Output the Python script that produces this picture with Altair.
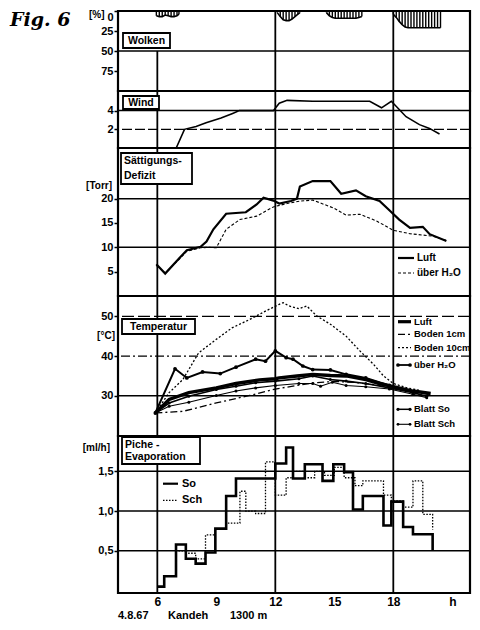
import altair as alt
import pandas as pd

# ---------------- data ----------------
x_ticks = [6, 9, 12, 15, 18, 21]
v_grid = [6, 12, 18]

# Wolken (cloud cover, %) – hatch readings, 4 episodes
cloud_h = [5.95, 6.1, 6.25, 6.4, 6.55, 6.7, 6.85, 7.0, 7.1,
           12.1, 12.25, 12.4, 12.55, 12.7, 12.85, 13.0, 13.15, 13.25,
           14.6, 14.75, 14.9, 15.05, 15.2, 15.35, 15.5, 15.65, 15.8, 15.95, 16.1, 16.25, 16.4,
           18.0, 18.15, 18.3, 18.45, 18.6, 18.75, 18.9, 19.05, 19.2, 19.35, 19.5, 19.65, 19.8, 19.95, 20.1, 20.25, 20.4]
cloud_v = [6, 7, 7, 5, 6, 7, 7, 6, 4,
           2, 7, 11, 12, 12, 10, 7, 4, 2,
           2, 6, 8, 9, 9, 9, 9, 9, 9, 9, 9, 8, 7,
           4, 8, 13, 17, 20, 21, 21, 21, 21, 21, 21, 21, 21, 21, 21, 21, 21]
cloud_seg = [1] * 9 + [2] * 9 + [3] * 13 + [4] * 17

# Wind
wind_h = [6.0, 6.96, 7.38, 7.97, 8.48, 9.24, 9.83, 10.17, 11.9, 12.2, 12.6, 13.9, 16.8, 17.4, 17.9, 18.65, 19.33, 19.84, 20.35]
wind_v = [0.0, 0.0, 2.0, 2.3, 2.7, 3.2, 3.7, 4.0, 4.0, 4.8, 5.1, 5.0, 5.0, 4.3, 5.0, 3.35, 2.5, 2.1, 1.5]

# Sättigungs-Defizit (Torr)
sd_luft_h = [5.95, 6.4, 7.15, 7.5, 8.2, 8.5, 8.85, 9.5, 10.5, 11.05, 11.4, 11.9, 12.2, 12.8, 13.1, 13.25, 13.9, 14.8, 15.35, 16.1, 16.6, 17.3, 17.8, 18.3, 18.85, 19.5, 19.85, 20.7]
sd_luft_v = [6.5, 4.6, 7.9, 9.4, 10.1, 11.2, 13.7, 16.9, 17.2, 18.8, 20.2, 19.6, 19.0, 19.5, 20.0, 22.5, 23.6, 23.6, 21.0, 21.7, 20.5, 19.5, 17.6, 15.7, 14.0, 14.2, 12.7, 11.3]
sd_h2o_h = [5.95, 6.4, 7.15, 7.5, 8.2, 8.6, 9.0, 9.5, 10.2, 11.05, 11.9, 12.6, 13.25, 13.9, 14.95, 15.6, 16.3, 17.15, 18.0, 18.85, 20.0, 20.7]
sd_h2o_v = [6.3, 4.7, 7.7, 9.2, 9.9, 10.0, 9.9, 13.7, 15.7, 16.4, 18.3, 19.0, 19.5, 19.7, 18.1, 16.6, 16.8, 15.4, 13.5, 12.8, 12.3, 11.4]

# Temperatur (°C)
t_luft_h = [5.9, 6.6, 7.6, 9.0, 10.0, 11.2, 12.0, 12.2, 13.1, 13.9, 14.8, 15.6, 16.6, 17.3, 18.0, 19.0, 19.9]
t_luft_v = [25.7, 29.1, 30.8, 32.0, 33.1, 34.0, 34.3, 34.5, 35.0, 35.4, 35.1, 35.0, 34.1, 33.1, 32.3, 31.2, 30.6]
t_b1_h = [5.9, 6.6, 7.3, 8.1, 9.0, 9.8, 10.7, 11.5, 12.2, 12.4, 12.7, 13.2, 13.6, 14.1, 14.8, 15.6, 16.3, 17.0, 17.5, 18.0, 18.7, 19.3]
t_b1_v = [25.7, 30.8, 34.1, 40.8, 44.2, 47.1, 49.2, 51.3, 53.0, 53.4, 52.6, 51.9, 52.6, 50.1, 48.0, 45.0, 41.3, 37.9, 35.0, 33.1, 32.0, 31.4]
t_b10_h = [5.9, 7.3, 9.0, 10.7, 12.0, 13.2, 14.0, 15.0, 16.0, 17.0, 18.0, 19.0, 19.9]
t_b10_v = [25.7, 26.1, 28.2, 30.1, 31.7, 32.7, 33.3, 33.6, 33.4, 32.8, 32.0, 31.0, 30.3]
t_h2o_h = [5.9, 6.9, 7.5, 8.3, 9.2, 10.0, 11.0, 11.5, 12.0, 12.55, 12.9, 13.4, 13.9, 14.8, 15.6, 16.6, 17.8]
t_h2o_v = [25.7, 36.8, 34.5, 36.0, 35.6, 37.2, 39.2, 38.7, 41.3, 39.6, 39.2, 37.5, 36.6, 36.5, 35.4, 34.5, 32.6]
t_bso_h = [5.9, 6.6, 7.6, 9.0, 10.0, 11.0, 12.0, 13.2, 13.9, 14.8, 15.6, 16.6, 17.8, 19.0, 19.7]
t_bso_v = [25.7, 28.2, 29.9, 31.6, 32.4, 33.3, 33.7, 34.3, 35.0, 34.1, 33.7, 33.1, 32.0, 30.8, 29.9]
t_bsch_h = [5.9, 6.6, 7.6, 9.0, 10.0, 11.0, 12.0, 13.2, 13.9, 14.3, 14.9, 15.6, 16.6, 17.8, 19.0, 19.7]
t_bsch_v = [25.7, 27.4, 28.4, 30.1, 31.2, 32.0, 32.6, 33.1, 33.1, 32.4, 33.4, 32.6, 32.3, 31.7, 30.4, 29.5]

# Piche-Evaporation (ml/h), step series
so_h = [6.0, 6.35, 6.95, 7.45, 7.95, 8.45, 8.95, 9.5, 10.0, 12.0, 12.55, 12.9, 13.5, 14.4, 14.95, 15.5, 15.95, 16.45, 17.5, 17.9, 18.5, 19.0, 20.0]
so_v = [0.05, 0.18, 0.58, 0.40, 0.34, 0.48, 0.78, 1.19, 1.41, 1.60, 1.80, 1.41, 1.59, 1.38, 1.59, 1.49, 1.02, 1.19, 0.82, 1.12, 0.80, 0.71, 0.51]
sch_h = [6.0, 6.35, 6.95, 7.45, 7.95, 8.45, 8.95, 9.5, 10.2, 10.5, 11.0, 11.5, 12.0, 12.55, 12.9, 13.5, 14.0, 14.5, 15.0, 15.5, 16.05, 16.45, 17.5, 17.9, 18.5, 19.0, 19.5, 20.0]
sch_v = [0.05, 0.18, 0.50, 0.47, 0.40, 0.70, 0.78, 0.85, 1.25, 1.00, 0.97, 1.62, 1.20, 1.42, 1.50, 1.42, 1.50, 1.45, 1.55, 1.42, 1.32, 1.38, 1.20, 1.13, 1.05, 1.38, 0.96, 0.77]

# footer text
footer = ["4.8.67", "Kandeh", "1300 m"]

# ---------------- helpers ----------------
FONT = "Liberation Sans"
XS = alt.Scale(domain=[4, 21.9], nice=False, zero=False)
W = 352


def X(axis=None):
    return alt.X("h:Q", scale=XS, axis=axis)


def yaxis(values, expr=None, flush=False):
    kw = dict(values=values, title=None, grid=False, domain=False, ticks=True, tickSize=4,
              tickWidth=1.5, tickColor="black", labelFont=FONT, labelFontWeight="bold",
              labelFontSize=11, labelColor="black", labelPadding=1, labelFlush=flush)
    if expr:
        kw["labelExpr"] = expr
    return alt.Axis(**kw)


def one():
    return pd.DataFrame({"a": [0]})


def txt(text, x, y, size=10, align="left", font=FONT, style="normal", weight="bold"):
    return alt.Chart(pd.DataFrame({"t": [text]})).mark_text(
        align=align, baseline="middle", font=font, fontSize=size, fontWeight=weight,
        fontStyle=style, color="black").encode(x=alt.value(x), y=alt.value(y), text="t:N")


def box(x1, x2, y1, y2):
    return alt.Chart(one()).mark_rect(fill="white", stroke="black", strokeWidth=1.8).encode(
        x=alt.value(x1), x2=alt.value(x2), y=alt.value(y1), y2=alt.value(y2))


def seg(x1, x2, y, width=1.5, dash=None):
    m = dict(color="black", strokeWidth=width)
    if dash:
        m["strokeDash"] = dash
    return alt.Chart(one()).mark_rule(**m).encode(x=alt.value(x1), x2=alt.value(x2), y=alt.value(y))


def dot(x, y, size=14):
    return alt.Chart(one()).mark_point(filled=True, color="black", size=size, opacity=1).encode(
        x=alt.value(x), y=alt.value(y))


def hrules(values, ys, yax, width=1.5, dash=None):
    m = dict(color="black", strokeWidth=width)
    if dash:
        m["strokeDash"] = dash
    return alt.Chart(pd.DataFrame({"g": values})).mark_rule(**m).encode(
        y=alt.Y("g:Q", scale=ys, axis=yax))


def vrules(xax=None):
    return alt.Chart(pd.DataFrame({"h": v_grid})).mark_rule(color="black", strokeWidth=1.8).encode(x=X(xax))


def line(h, v, ys, yax, xax=None, **mk):
    base = dict(color="black")
    base.update(mk)
    return alt.Chart(pd.DataFrame({"h": h, "v": v})).mark_line(**base).encode(
        x=X(xax), y=alt.Y("v:Q", scale=ys, axis=yax))


LEG = 9.5
BOX = 10.5

# ---------------- panel 1: Wolken ----------------
ys_w = alt.Scale(domain=[0, 100], reverse=True, nice=False, zero=False)
ax_w = yaxis([0, 25, 50, 75], flush=True)
cdf = pd.DataFrame({"h": cloud_h, "v": cloud_v, "seg": cloud_seg, "z": [0] * len(cloud_h)})
wol_v = alt.Chart(pd.DataFrame({"h": v_grid, "y0": [50, 0, 0], "y1": [100, 100, 100]})).mark_rule(
    color="black", strokeWidth=1.8).encode(x=X(), y=alt.Y("y0:Q", scale=ys_w, axis=ax_w), y2="y1:Q")
p_wolken = alt.layer(
    hrules([50], ys_w, ax_w),
    wol_v,
    alt.Chart(cdf).mark_rule(color="black", strokeWidth=1.4).encode(
        x=X(), y=alt.Y("z:Q", scale=ys_w, axis=ax_w), y2="v:Q"),
    alt.Chart(cdf).mark_line(color="black", strokeWidth=1.6).encode(
        x=X(), y=alt.Y("v:Q", scale=ys_w, axis=ax_w), detail="seg:N"),
    box(5, 52, 22, 37), txt("Wolken", 28.5, 29.5, size=BOX, align="center"),
    txt("Fig. 6", -108, 9, size=19, font="DejaVu Serif", style="italic"),
    txt("[%]", -29, 4, size=10),
).properties(width=W, height=80)

# ---------------- panel 2: Wind ----------------
ys_wi = alt.Scale(domain=[0, 6.1], nice=False, zero=False)
ax_wi = yaxis([2, 4])
p_wind = alt.layer(
    hrules([4], ys_wi, ax_wi),
    hrules([2], ys_wi, ax_wi, width=1.3, dash=[10, 3]),
    vrules(),
    line(wind_h, wind_v, ys_wi, ax_wi, strokeWidth=1.6),
    box(5, 41, 5, 18), txt("Wind", 23, 11.5, size=BOX, align="center"),
).properties(width=W, height=57)

# ---------------- panel 3: Sättigungs-Defizit ----------------
ys_s = alt.Scale(domain=[0, 30.4], nice=False, zero=False)
ax_s = yaxis([5, 10, 15, 20])
p_satt = alt.layer(
    hrules([10, 20], ys_s, ax_s),
    vrules(),
    line(sd_h2o_h, sd_h2o_v, ys_s, ax_s, strokeWidth=1.1, strokeDash=[3, 2]),
    line(sd_luft_h, sd_luft_v, ys_s, ax_s, strokeWidth=2.2),
    box(3, 74, 5, 36),
    txt("Sättigungs-", 6, 12.5, size=BOX), txt("Defizit", 6, 28, size=BOX),
    txt("[Torr]", -6, 38, size=10, align="right"),
    seg(280, 296, 110, width=2.2), txt("Luft", 299, 110, size=LEG + 0.5),
    seg(280, 296, 125, width=1.1, dash=[3, 2]), txt("über H₂O", 299, 125, size=LEG + 0.5),
).properties(width=W, height=148)

# ---------------- panel 4: Temperatur ----------------
ys_t = alt.Scale(domain=[19.9, 55.1], nice=False, zero=False)
ax_t = yaxis([30, 40, 50])
pt = alt.OverlayMarkDef(filled=True, color="black", size=14, opacity=1)
pt_s = alt.OverlayMarkDef(filled=True, color="black", size=9, opacity=1)
p_temp = alt.layer(
    hrules([30], ys_t, ax_t),
    hrules([40], ys_t, ax_t, width=1.3, dash=[9, 3, 2, 3]),
    hrules([50], ys_t, ax_t, width=1.3, dash=[12, 4]),
    vrules(),
    line(t_b1_h, t_b1_v, ys_t, ax_t, strokeWidth=1.3, strokeDash=[2, 2]),
    line(t_b10_h, t_b10_v, ys_t, ax_t, strokeWidth=1.3, strokeDash=[7, 3, 2, 3]),
    line(t_bsch_h, t_bsch_v, ys_t, ax_t, strokeWidth=1.1, point=pt_s),
    line(t_bso_h, t_bso_v, ys_t, ax_t, strokeWidth=1.6, point=pt_s),
    line(t_h2o_h, t_h2o_v, ys_t, ax_t, strokeWidth=2.0, point=pt),
    line(t_luft_h, t_luft_v, ys_t, ax_t, strokeWidth=3.4),
    box(4, 77, 23, 38), txt("Temperatur", 40.5, 30.5, size=BOX, align="center"),
    txt("[°C]", -3, 40, size=10, align="right"),
    seg(280, 293, 25.7, width=3.2), txt("Luft", 296, 25.7, size=LEG),
    seg(280, 293, 38.3, width=1.3, dash=[7, 3, 2, 3]), txt("Boden 1cm", 296, 38.3, size=LEG),
    seg(280, 293, 51.7, width=1.2, dash=[2, 2]), txt("Boden 10cm", 296, 51.7, size=LEG),
    seg(279, 293, 69, width=1.8), dot(280, 69), dot(292, 69), txt("über H₂O", 296, 69, size=LEG),
    seg(279, 293, 113.3, width=1.5), dot(280, 113.3, 10), dot(292, 113.3, 10), txt("Blatt So", 296, 113.3, size=LEG),
    seg(279, 293, 128.3, width=1.1), dot(280, 128.3, 8), dot(292, 128.3, 8), txt("Blatt Sch", 296, 128.3, size=LEG),
).properties(width=W, height=140)

# ---------------- panel 5: Piche-Evaporation ----------------
ys_p = alt.Scale(domain=[-0.03, 1.945], nice=False, zero=False)
ax_p = yaxis([0.5, 1.0, 1.5], expr="replace(format(datum.value, '.1f'), '.', ',')")
ax_x = alt.Axis(values=x_ticks, labelExpr="datum.value == 21 ? 'h' : datum.label", ticks=False,
                domain=False, grid=False, title=None, labelFont=FONT, labelFontWeight="bold",
                labelFontSize=12, labelColor="black", labelPadding=3, labelFlush=False)
p_piche = alt.layer(
    alt.Chart(pd.DataFrame({"g": [0.5, 1.0, 1.5]})).mark_rule(color="black", strokeWidth=1.5).encode(
        y=alt.Y("g:Q", scale=ys_p, axis=ax_p)),
    vrules(ax_x),
    line(sch_h, sch_v, ys_p, ax_p, xax=ax_x, interpolate="step-after", strokeWidth=1.3, strokeDash=[1.5, 1.5]),
    line(so_h, so_v, ys_p, ax_p, xax=ax_x, interpolate="step-after", strokeWidth=2.6),
    box(4, 82, 1, 28),
    txt("Piche -", 7, 9, size=BOX), txt("Evaporation", 7, 21, size=BOX),
    txt("[ml/h]", -8, 12, size=10, align="right"),
    seg(45, 60, 47.7, width=2.2), txt("So", 64, 47.7, size=11),
    seg(45, 60, 64.3, width=1.3, dash=[1.5, 1.5]), txt("Sch", 64, 64.3, size=11),
    txt(footer[0], 0, 180, size=11), txt(footer[1], 50, 180, size=11), txt(footer[2], 112, 180, size=11),
).properties(width=W, height=157)

chart = alt.vconcat(p_wolken, p_wind, p_satt, p_temp, p_piche, spacing=0, bounds="flush").resolve_scale(
    x="independent", y="independent"
).properties(
    padding={"left": 0, "top": 0, "right": 0, "bottom": 0}
).configure_view(stroke="black", strokeWidth=2.2)

chart.save("out.html", embed_options={"renderer": "svg", "actions": False})
